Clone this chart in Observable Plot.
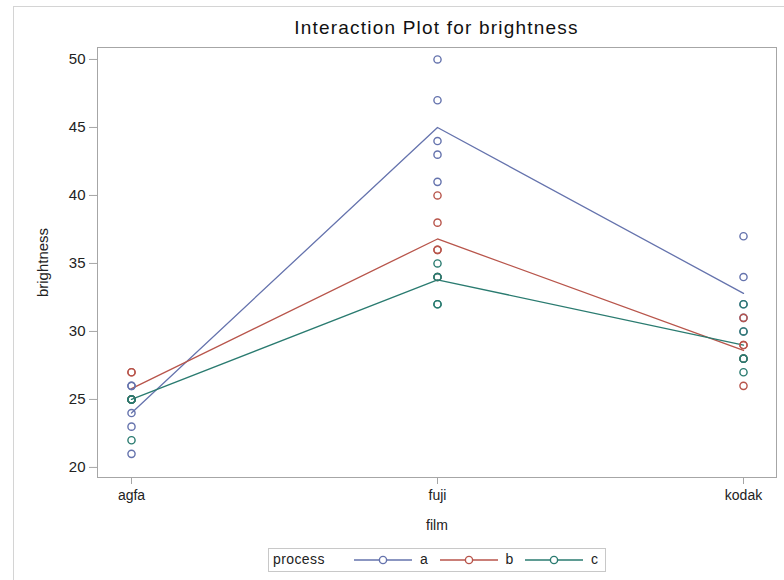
<!DOCTYPE html>
<html>
<head>
<meta charset="utf-8">
<script src="https://cdn.jsdelivr.net/npm/d3@7"></script>
<script src="https://cdn.jsdelivr.net/npm/@observablehq/plot@0.6"></script>
<style>
  html, body { margin: 0; padding: 0; background: #fff; width: 784px; height: 580px; overflow: hidden; font-family: "Liberation Sans", Arial, sans-serif; }
  #outer { position: absolute; left: 13px; top: 6px; width: 820px; height: 620px; border: 1px solid #d4d4d4; }
  #title { position: absolute; left: 97px; width: 679px; top: 17px; text-align: center; font-size: 19px; letter-spacing: 1.2px; color: #111; }
  #chart { position: absolute; left: 0; top: 0; }
  #legend { position: absolute; left: 268px; top: 548px; width: 336px; height: 22px; border: 1px solid #c8c8c8; font-size: 14px; color: #222; }
  #legend .txt { position: absolute; top: 2px; letter-spacing: 0.4px; }
  #legend svg { position: absolute; top: 5px; }
</style>
</head>
<body>
<div id="outer"></div>
<div id="title">Interaction Plot for brightness</div>
<div id="chart"></div>
<div id="legend"></div>
<script>
// Categories
const films = ["agfa", "fuji", "kodak"];
const processes = ["a", "b", "c"];
const processColors = ["#6573AD", "#B8554B", "#2A7B70"];
const yTicks = [20, 25, 30, 35, 40, 45, 50];

// Observations per process, one list per film (agfa, fuji, kodak)
const obsA = [[21, 23, 24, 26, 26], [41, 43, 44, 47, 50], [30, 31, 32, 34, 37]];
const obsB = [[27, 27, 25, 25, 25], [34, 36, 36, 38, 40], [26, 28, 29, 29, 31]];
const obsC = [[22, 25, 25, 25, 25], [32, 32, 34, 34, 35], [27, 28, 28, 30, 32]];

// Cell means drawn as lines (agfa, fuji, kodak)
const meanA = [24.0, 45.0, 32.8];
const meanB = [25.8, 36.8, 28.6];
const meanC = [25.0, 33.8, 29.0];

const obsAll = [obsA, obsB, obsC];
const meanAll = [meanA, meanB, meanC];

const points = [];
const means = [];
processes.forEach((p, pi) => {
  films.forEach((f, fi) => {
    obsAll[pi][fi].forEach(v => points.push({film: f, process: p, brightness: v}));
    means.push({film: f, process: p, brightness: meanAll[pi][fi]});
  });
});

const chart = Plot.plot({
  width: 784,
  height: 540,
  marginLeft: 97,
  marginRight: 8,
  marginTop: 47,
  marginBottom: 63,
  style: {fontFamily: "Liberation Sans, Arial, sans-serif", fontSize: "14px", color: "#222", background: "transparent"},
  x: {type: "point", domain: films, padding: 0.108},
  y: {domain: [19.26, 50.88]},
  color: {domain: processes, range: processColors},
  marks: [
    Plot.frame({stroke: "#a6a6a6"}),
    Plot.axisY({ticks: yTicks, tickSize: 8, tickPadding: 4, stroke: "#a6a6a6", fontSize: 15, label: null}),
    Plot.axisY({ticks: [], label: "brightness", labelAnchor: "center", labelArrow: "none", labelOffset: 60, fontSize: 15, letterSpacing: 0.3}),
    Plot.axisX({tickSize: 7, tickPadding: 6, stroke: "#a6a6a6", fontSize: 14, letterSpacing: 0.5, label: null}),
    Plot.axisX({ticks: [], label: "film", labelAnchor: "center", labelArrow: "none", labelOffset: 52, fontSize: 14, letterSpacing: 0.4}),
    Plot.line(means, {x: "film", y: "brightness", z: "process", stroke: "process", strokeWidth: 1.3}),
    Plot.dot(points, {x: "film", y: "brightness", stroke: "process", r: 3.6, strokeWidth: 1.4, fill: "none"})
  ]
});
document.getElementById("chart").appendChild(chart);

// Legend
const legend = document.getElementById("legend");
const lbl = document.createElement("span");
lbl.className = "txt";
lbl.textContent = "process";
lbl.style.left = "4px";
legend.appendChild(lbl);
const ns = "http://www.w3.org/2000/svg";
processes.forEach((p, i) => {
  const x0 = 85 + i * 85.5;
  const svg = document.createElementNS(ns, "svg");
  svg.setAttribute("width", "58");
  svg.setAttribute("height", "12");
  svg.style.left = x0 + "px";
  const line = document.createElementNS(ns, "line");
  line.setAttribute("x1", "0"); line.setAttribute("x2", "58");
  line.setAttribute("y1", "6"); line.setAttribute("y2", "6");
  line.setAttribute("stroke", processColors[i]); line.setAttribute("stroke-width", "1.3");
  const c = document.createElementNS(ns, "circle");
  c.setAttribute("cx", "29"); c.setAttribute("cy", "6"); c.setAttribute("r", "3.6");
  c.setAttribute("fill", "white"); c.setAttribute("stroke", processColors[i]); c.setAttribute("stroke-width", "1.4");
  svg.appendChild(line); svg.appendChild(c);
  legend.appendChild(svg);
  const t = document.createElement("span");
  t.className = "txt";
  t.textContent = p;
  t.style.left = (x0 + 66) + "px";
  legend.appendChild(t);
});
</script>
</body>
</html>
